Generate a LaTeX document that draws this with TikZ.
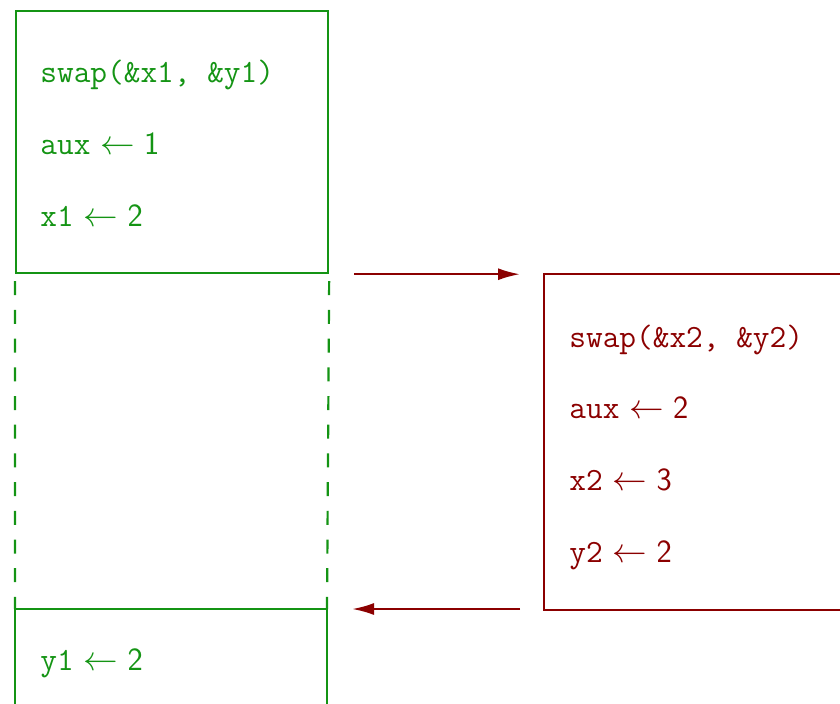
\documentclass[tikz,border=0pt]{standalone}
\usepackage{fontspec}
\usepackage{amsmath}
\usepackage{xcolor}
\usepackage{tikz}
\usetikzlibrary{arrows.meta,positioning,calc}
\definecolor{callGreen}{HTML}{149414}
\definecolor{calleeRed}{HTML}{8B0000}
\newcommand{\assign}[2]{$\text{\ttfamily #1} \leftarrow \text{\sffamily #2}$}

\begin{document}
\begin{tikzpicture}[x=0.5pt, y=-0.5pt,
    frame/.style={draw, line width=1.1pt, inner sep=0pt, anchor=north west},
    codeline/.style={anchor=base west, inner sep=0pt, font=\fontsize{16.2}{19}\selectfont},
    call/.style={draw=calleeRed, line width=1.1pt, -{Latex[length=11pt,width=6pt]}}]
  \clip (0,0) rectangle (840,703);
  % caller frame
  \node[frame, draw=callGreen, minimum width=156pt, minimum height=131pt] (caller) at (15,10) {};
  \coordinate (lowL) at (15,609);
  \coordinate (lowR) at (327,609);
  \draw[callGreen, line width=1.1pt, dash pattern=on 7pt off 7.35pt, dash phase=10.85pt]
    (caller.south west) -- (lowL) (caller.south east) -- (lowR);
  \draw[callGreen, line width=1.1pt] (lowL) -- (lowR) (lowL) -- ++(0,120) (lowR) -- ++(0,120);
  \foreach \i/\txt in {0/{\texttt{swap(\&x1, \&y1)}},1/{\assign{aux}{1}},2/{\assign{x1}{2}}}{
    \node[codeline, text=callGreen] (c\i) at (40,82+72*\i) {\txt};
  }
  \node[codeline, text=callGreen] (c3) at (40,670) {\assign{y1}{2}};
  % callee frame
  \node[frame, draw=calleeRed, minimum width=170pt, minimum height=168pt] (callee) at (543,273) {};
  \foreach \i/\txt in {0/{\texttt{swap(\&x2, \&y2)}},1/{\assign{aux}{2}},2/{\assign{x2}{3}},3/{\assign{y2}{2}}}{
    \node[codeline, text=calleeRed] (r\i) at (569,347+71.7*\i) {\txt};
  }
  % call and return
  \draw[call] ($(caller.south east)+(25,0)$) -- ($(caller.south east -| callee.west)+(-23,0)$);
  \draw[call] ($(lowR -| callee.west)+(-23,0)$) -- ($(lowR)+(25,0)$);
\end{tikzpicture}
\end{document}
